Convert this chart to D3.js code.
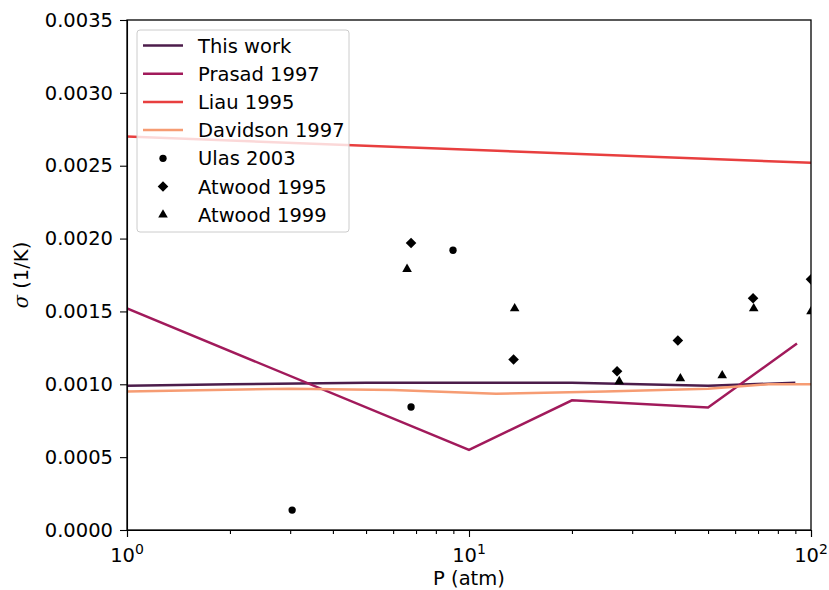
<!DOCTYPE html>
<html><head><meta charset="utf-8">
<script src="https://cdn.jsdelivr.net/npm/d3@7"></script>
<style>body{margin:0;background:#fff}text{font-family:"DejaVu Sans",sans-serif}</style>
</head><body>
<svg id="c" width="829" height="590"></svg>
<script>
const thisWorkP = [1, 2, 5, 10, 20, 50, 90];
const thisWorkS = [0.00099, 0.001, 0.00101, 0.00101, 0.00101, 0.00099, 0.00101];
const prasadP = [1, 10, 20, 50, 91];
const prasadS = [0.00152, 0.00055, 0.00089, 0.00084, 0.00128];
const liauP = [1, 100];
const liauS = [0.0027, 0.00252];
const davidsonP = [1, 3, 6, 12, 25, 50, 75, 100];
const davidsonS = [0.00095, 0.00097, 0.00096, 0.000935, 0.00095, 0.00097, 0.001, 0.001];
const ulasP = [3.04, 6.77, 8.98];
const ulasS = [0.000137, 0.000844, 0.00192];
const atwood95P = [6.77, 13.5, 27.1, 40.8, 67.7, 100];
const atwood95S = [0.00197, 0.00117, 0.00109, 0.0013, 0.00159, 0.00172];
const atwood99P = [6.59, 13.6, 27.5, 41.5, 55, 68, 100];
const atwood99S = [0.00179, 0.00152, 0.00102, 0.00104, 0.00106, 0.00152, 0.0015];
const yTicks = [0, 0.0005, 0.001, 0.0015, 0.002, 0.0025, 0.003, 0.0035];
const xTicks = [1, 10, 100];
const xTickExp = ["0", "1", "2"];
const legendLabels = ["This work", "Prasad 1997", "Liau 1995", "Davidson 1997", "Ulas 2003", "Atwood 1995", "Atwood 1999"];
const lineColors = ["#4c1d4b", "#a11a5b", "#e83f3f", "#f69c73"];

const L = 127, R = 811, T = 20, B = 530;
const FS = 19.5;
const svg = d3.select("#c");
const x = d3.scaleLog().domain([1, 100]).range([L, R]);
const y = d3.scaleLinear().domain([0, 0.0035]).range([B, T]);

svg.append("defs").append("clipPath").attr("id", "clip")
  .append("rect").attr("x", L).attr("y", T).attr("width", R - L).attr("height", B - T);

const plot = svg.append("g").attr("clip-path", "url(#clip)");
const line = d3.line().x(d => x(d[0])).y(d => y(d[1]));
const series = [[thisWorkP, thisWorkS], [prasadP, prasadS], [liauP, liauS], [davidsonP, davidsonS]];
series.forEach((s, i) => {
  plot.append("path").datum(s[0].map((p, j) => [p, s[1][j]]))
    .attr("d", line).attr("fill", "none").attr("stroke", lineColors[i]).attr("stroke-width", 2.5);
});
const sym = [d3.symbol(d3.symbolCircle, 42), d3.symbol(d3.symbolSquare, 56), d3.symbol(d3.symbolTriangle, 40)];
[[ulasP, ulasS], [atwood95P, atwood95S], [atwood99P, atwood99S]].forEach((s, i) => {
  plot.selectAll(null).data(s[0].map((p, j) => [p, s[1][j]])).enter().append("path")
    .attr("d", sym[i]())
    .attr("transform", d => `translate(${x(d[0])},${y(d[1])})` + (i === 1 ? " rotate(45)" : ""))
    .attr("fill", "#000");
});

// axes
svg.append("g").attr("transform", `translate(0,${B})`)
  .call(d3.axisBottom(x).tickValues(xTicks).tickSize(7).tickFormat(""));
const minor = [];
for (let d = 1; d < 100; d *= 10) for (let k = 2; k < 10; k++) minor.push(d * k);
svg.append("g").attr("transform", `translate(0,${B})`)
  .call(d3.axisBottom(x).tickValues(minor).tickSize(4).tickFormat(""))
  .call(g => g.select(".domain").remove());
xTicks.forEach((t, i) => {
  const tx = svg.append("text").attr("x", x(t)).attr("y", B + 32).attr("text-anchor", "middle")
    .attr("font-size", FS);
  tx.append("tspan").text("10");
  tx.append("tspan").attr("dy", -8).attr("font-size", 14).text(xTickExp[i]);
});
svg.append("g").attr("transform", `translate(${L},0)`)
  .call(d3.axisLeft(y).tickValues(yTicks).tickSize(7).tickPadding(7).tickFormat(d3.format(".4f")))
  .call(g => g.selectAll("text").attr("font-size", FS).attr("font-family", "DejaVu Sans").attr("fill", "#000"));
svg.selectAll(".domain, .tick line").attr("stroke", "#000").attr("stroke-width", 1.1);
svg.append("rect").attr("x", L).attr("y", T).attr("width", R - L).attr("height", B - T)
  .attr("fill", "none").attr("stroke", "#000").attr("stroke-width", 1.3);

svg.append("text").attr("x", (L + R) / 2).attr("y", 585).attr("text-anchor", "middle")
  .attr("font-size", FS).text("P (atm)");
const yl = svg.append("text").attr("transform", `translate(28,${(T + B) / 2}) rotate(-90)`)
  .attr("text-anchor", "middle").attr("font-size", FS);
yl.append("tspan").attr("font-style", "italic").attr("font-family", "DejaVu Serif").text("σ");
yl.append("tspan").text(" (1/K)");

// legend
const lg = svg.append("g");
lg.append("rect").attr("x", 137).attr("y", 30).attr("width", 212).attr("height", 202).attr("rx", 3)
  .attr("fill", "#fff").attr("fill-opacity", 0.8).attr("stroke", "#ccc");
legendLabels.forEach((lab, i) => {
  const yy = 45.5 + i * 28.2;
  if (i < 4) {
    lg.append("line").attr("x1", 143).attr("x2", 183).attr("y1", yy).attr("y2", yy)
      .attr("stroke", lineColors[i]).attr("stroke-width", 2.5);
  } else {
    const k = i - 4;
    lg.append("path").attr("d", sym[k]())
      .attr("transform", `translate(163,${yy})` + (k === 1 ? " rotate(45)" : "")).attr("fill", "#000");
  }
  lg.append("text").attr("x", 198).attr("y", yy + 7).attr("font-size", FS).text(lab);
});
</script>
</body></html>
